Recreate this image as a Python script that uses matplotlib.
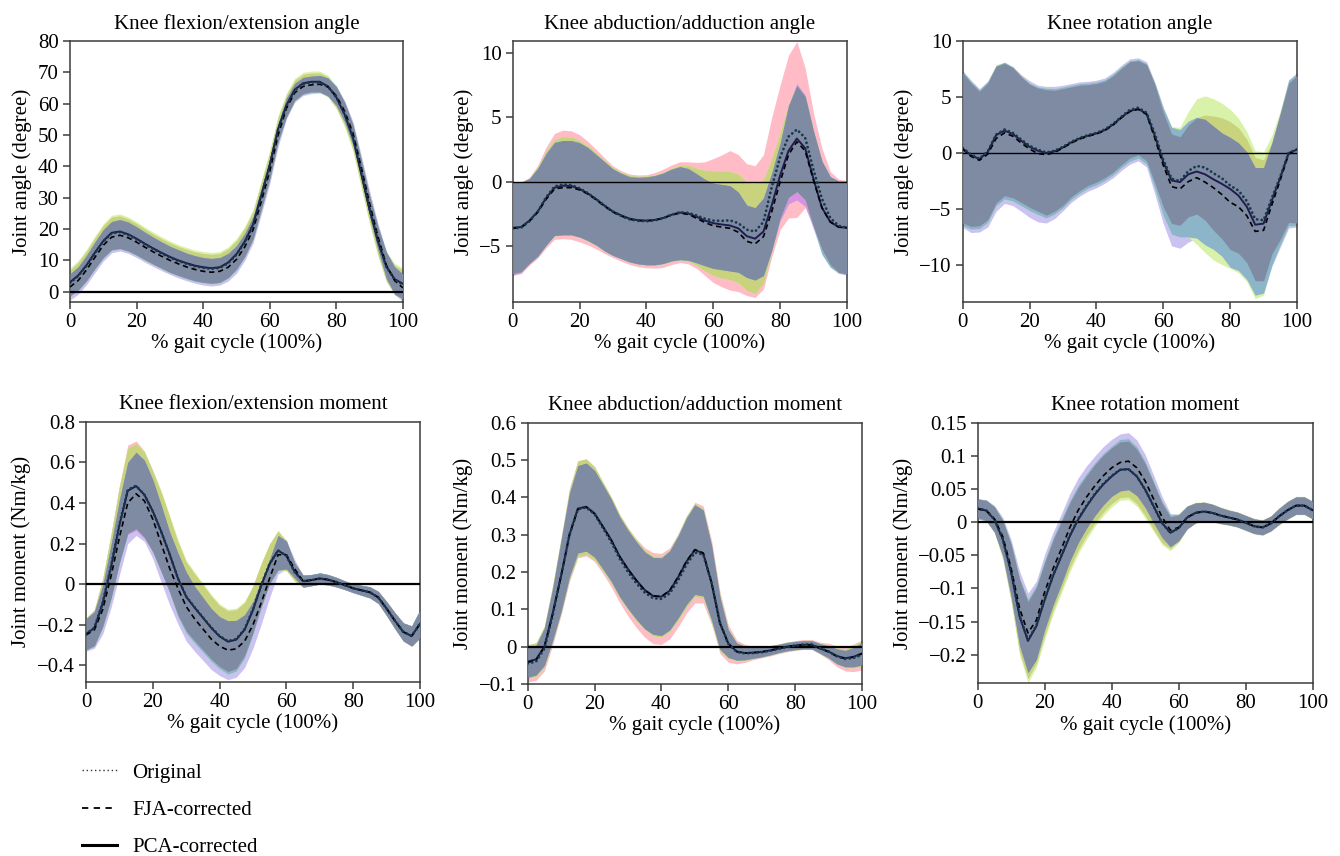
import numpy as np
import matplotlib
matplotlib.use("Agg")
import matplotlib.pyplot as plt
from matplotlib.lines import Line2D

plt.rcParams['font.family'] = ['Liberation Serif', 'DejaVu Serif']
plt.rcParams['axes.unicode_minus'] = True

# ---------------- data (gait cycle sampled every 2.5 %) ----------------
gait_pct = np.linspace(0, 100, 41)

# Knee flexion/extension angle (deg)
fe_ang_orig = [2.8, 5.0, 8.3, 12.3, 16.0, 18.6, 19.0, 18.1, 16.7, 15.1, 13.6, 12.2, 10.9, 9.8, 8.9, 8.1, 7.6, 7.3, 7.6, 9.1, 11.8, 15.8, 21.3, 30.8, 40.3, 51.8, 59.3, 64.3, 66.3, 66.8, 66.8, 65.4, 62.0, 56.7, 49.3, 37.8, 26.3, 16.2, 8.0, 3.8, 2.3]
fe_ang_fja = [1.5, 3.6, 7.0, 11.0, 14.8, 17.4, 18.0, 17.2, 15.8, 14.2, 12.7, 11.3, 10.0, 8.9, 7.9, 7.1, 6.5, 6.2, 6.5, 7.8, 10.3, 14.3, 19.8, 29.0, 38.5, 50.0, 58.5, 63.5, 65.5, 66.0, 66.2, 65.3, 62.5, 57.5, 50.5, 39.5, 28.0, 17.5, 8.5, 3.5, 1.2]
fe_ang_pca = [3.0, 5.2, 8.5, 12.5, 16.2, 18.8, 19.2, 18.3, 16.9, 15.3, 13.8, 12.4, 11.1, 10.0, 9.1, 8.3, 7.8, 7.5, 7.8, 9.3, 12.0, 16.0, 21.5, 31.0, 40.5, 52.0, 59.5, 64.5, 66.5, 67.0, 67.0, 65.5, 62.0, 56.5, 49.0, 37.5, 26.0, 16.0, 8.0, 4.0, 2.5]
fe_ang_sd_orig = [4.1, 4.4, 4.7, 4.9, 5.1, 5.2, 5.2, 5.1, 5.0, 4.9, 4.8, 4.7, 4.7, 4.6, 4.6, 4.6, 4.6, 4.6, 4.6, 4.6, 4.6, 4.5, 4.4, 4.3, 4.2, 3.9, 3.5, 3.2, 3.1, 3.0, 3.0, 3.1, 3.3, 3.6, 3.9, 4.1, 4.2, 4.4, 4.5, 4.6, 4.6]
fe_ang_sd_fja = [4.2, 4.4, 4.7, 4.9, 5.0, 5.0, 5.0, 5.0, 4.9, 4.8, 4.7, 4.6, 4.5, 4.5, 4.4, 4.4, 4.4, 4.4, 4.4, 4.4, 4.4, 4.3, 4.2, 4.1, 4.0, 3.7, 3.3, 3.0, 2.9, 2.8, 2.8, 2.9, 3.1, 3.4, 3.7, 3.9, 4.0, 4.2, 4.3, 4.4, 4.4]
fe_ang_sd_pca = [4.5, 4.8, 5.1, 5.3, 5.5, 5.6, 5.6, 5.5, 5.4, 5.3, 5.2, 5.1, 5.1, 5.0, 5.0, 5.0, 5.0, 5.0, 5.0, 5.0, 5.0, 4.9, 4.8, 4.7, 4.6, 4.3, 3.9, 3.6, 3.5, 3.4, 3.4, 3.5, 3.7, 4.0, 4.3, 4.5, 4.6, 4.8, 4.9, 5.0, 5.0]

# Knee abduction/adduction angle (deg)
aa_ang_orig = [-3.6, -3.55, -3.05, -2.3, -1.2, -0.35, -0.2, -0.25, -0.5, -0.88, -1.35, -1.85, -2.32, -2.65, -2.9, -3.02, -3.05, -2.98, -2.82, -2.55, -2.35, -2.4, -2.6, -2.85, -3.0, -3.02, -2.98, -3.2, -3.7, -3.85, -3.1, -0.4, 1.9, 3.5, 4.05, 3.4, 0.9, -1.3, -2.8, -3.4, -3.55]
aa_ang_fja = [-3.6, -3.55, -3.05, -2.35, -1.35, -0.55, -0.45, -0.45, -0.62, -0.95, -1.4, -1.9, -2.35, -2.65, -2.9, -3.0, -3.02, -2.97, -2.82, -2.57, -2.42, -2.52, -2.82, -3.15, -3.4, -3.5, -3.6, -3.9, -4.6, -4.8, -4.25, -2.3, 0.0, 2.1, 3.1, 2.4, 0.1, -2.0, -3.1, -3.5, -3.55]
aa_ang_pca = [-3.55, -3.5, -3.0, -2.3, -1.25, -0.45, -0.3, -0.32, -0.55, -0.9, -1.35, -1.85, -2.3, -2.6, -2.85, -2.97, -3.0, -2.95, -2.8, -2.55, -2.38, -2.45, -2.7, -3.0, -3.2, -3.3, -3.38, -3.6, -4.2, -4.4, -3.85, -1.8, 0.5, 2.4, 3.35, 2.6, 0.2, -2.0, -3.1, -3.5, -3.55]
aa_ang_sd_orig = [3.65, 3.55, 3.4, 3.6, 3.9, 4.1, 4.2, 4.2, 4.15, 4.0, 3.85, 3.7, 3.55, 3.5, 3.5, 3.55, 3.6, 3.7, 3.8, 3.85, 3.9, 3.95, 4.1, 4.4, 4.8, 5.1, 5.4, 5.3, 5.1, 5.1, 5.2, 5.4, 5.6, 6.3, 6.8, 5.4, 4.4, 3.9, 3.6, 3.6, 3.65]
aa_ang_sd_fja = [3.6, 3.5, 3.3, 3.4, 3.55, 3.6, 3.65, 3.65, 3.65, 3.6, 3.5, 3.45, 3.35, 3.3, 3.3, 3.35, 3.4, 3.45, 3.5, 3.55, 3.6, 3.55, 3.45, 3.35, 3.3, 3.3, 3.3, 3.1, 2.8, 2.8, 3.0, 3.0, 3.0, 3.8, 4.5, 4.3, 3.8, 3.6, 3.5, 3.6, 3.65]
aa_ang_sd_pca = [3.55, 3.45, 3.3, 3.45, 3.65, 3.75, 3.8, 3.8, 3.75, 3.7, 3.6, 3.5, 3.4, 3.35, 3.35, 3.4, 3.45, 3.5, 3.55, 3.6, 3.65, 3.7, 3.75, 3.9, 4.05, 4.15, 4.2, 4.2, 4.2, 4.25, 4.0, 3.6, 3.3, 3.6, 4.1, 4.0, 3.7, 3.6, 3.5, 3.55, 3.6]

# Knee rotation angle (deg)
rot_ang_orig = [0.45, -0.15, -0.5, 0.15, 1.65, 2.1, 1.8, 1.2, 0.65, 0.3, 0.05, 0.2, 0.55, 1.0, 1.35, 1.6, 1.8, 2.1, 2.6, 3.25, 3.85, 4.05, 3.6, 1.7, -0.6, -2.3, -2.5, -1.6, -1.15, -1.3, -1.8, -2.25, -2.9, -3.35, -4.3, -5.9, -6.0, -4.0, -2.1, 0.0, 0.35]
rot_ang_fja = [0.35, -0.3, -0.65, -0.1, 1.3, 1.8, 1.5, 0.9, 0.35, -0.05, -0.15, 0.05, 0.45, 0.9, 1.25, 1.5, 1.7, 2.0, 2.5, 3.15, 3.7, 3.9, 3.45, 1.3, -1.1, -3.0, -3.2, -2.55, -2.2, -2.6, -3.1, -3.7, -4.4, -4.8, -5.6, -7.0, -6.9, -4.6, -2.4, -0.1, 0.3]
rot_ang_pca = [0.4, -0.2, -0.55, 0.1, 1.6, 2.0, 1.7, 1.1, 0.55, 0.2, 0.0, 0.15, 0.5, 0.95, 1.3, 1.55, 1.75, 2.05, 2.55, 3.2, 3.75, 3.95, 3.5, 1.5, -0.8, -2.45, -2.6, -1.9, -1.65, -1.9, -2.35, -2.75, -3.2, -3.8, -4.8, -6.4, -6.3, -4.2, -2.2, 0.0, 0.3]
rot_ang_sd_orig = [6.7, 6.4, 6.0, 6.1, 6.1, 5.9, 5.8, 5.6, 5.5, 5.5, 5.6, 5.4, 5.2, 4.9, 4.7, 4.5, 4.4, 4.3, 4.3, 4.3, 4.3, 4.2, 4.3, 4.4, 4.2, 4.0, 3.95, 4.1, 4.3, 4.7, 5.1, 5.4, 5.7, 5.6, 5.5, 5.5, 5.4, 5.0, 5.6, 6.2, 6.6]
rot_ang_sd_fja = [7.0, 6.8, 6.4, 6.5, 6.5, 6.3, 6.2, 6.1, 6.1, 6.1, 6.1, 5.9, 5.6, 5.3, 5.1, 4.9, 4.8, 4.7, 4.7, 4.7, 4.7, 4.6, 4.7, 5.0, 5.2, 5.3, 5.3, 5.4, 5.4, 5.6, 5.5, 5.5, 5.8, 5.7, 5.7, 5.7, 5.6, 5.5, 6.0, 6.6, 6.9]
rot_ang_sd_pca = [6.9, 6.6, 6.2, 6.3, 6.3, 6.1, 6.0, 5.8, 5.7, 5.7, 5.8, 5.6, 5.4, 5.1, 4.9, 4.7, 4.6, 4.5, 4.5, 4.5, 4.5, 4.4, 4.5, 4.7, 4.8, 4.8, 4.9, 5.6, 6.5, 7.0, 7.2, 7.2, 7.1, 6.9, 6.7, 6.6, 6.4, 5.8, 6.0, 6.5, 6.8]

# Knee flexion/extension moment (Nm/kg)
fe_mom_orig = [-0.245, -0.214, -0.09, 0.09, 0.295, 0.465, 0.485, 0.44, 0.358, 0.258, 0.148, 0.03, -0.06, -0.113, -0.163, -0.213, -0.255, -0.28, -0.27, -0.22, -0.123, -0.002, 0.102, 0.166, 0.14, 0.06, 0.015, 0.02, 0.028, 0.022, 0.01, -0.005, -0.02, -0.03, -0.04, -0.065, -0.12, -0.18, -0.235, -0.255, -0.195]
fe_mom_fja = [-0.25, -0.225, -0.125, 0.04, 0.23, 0.4, 0.445, 0.41, 0.32, 0.2, 0.08, -0.02, -0.11, -0.17, -0.22, -0.27, -0.305, -0.325, -0.318, -0.28, -0.2, -0.09, 0.03, 0.145, 0.145, 0.075, 0.015, 0.02, 0.028, 0.022, 0.01, -0.005, -0.02, -0.03, -0.04, -0.065, -0.12, -0.18, -0.235, -0.255, -0.195]
fe_mom_pca = [-0.245, -0.216, -0.094, 0.085, 0.29, 0.46, 0.483, 0.44, 0.36, 0.26, 0.15, 0.03, -0.062, -0.115, -0.165, -0.215, -0.257, -0.283, -0.273, -0.224, -0.127, -0.005, 0.1, 0.166, 0.14, 0.06, 0.015, 0.02, 0.028, 0.022, 0.01, -0.005, -0.02, -0.03, -0.04, -0.065, -0.12, -0.18, -0.235, -0.255, -0.195]
fe_mom_sd_orig = [0.078, 0.088, 0.118, 0.158, 0.19, 0.22, 0.22, 0.215, 0.2, 0.195, 0.185, 0.18, 0.17, 0.165, 0.16, 0.155, 0.15, 0.15, 0.145, 0.13, 0.115, 0.105, 0.097, 0.095, 0.072, 0.044, 0.029, 0.027, 0.027, 0.025, 0.023, 0.021, 0.021, 0.024, 0.027, 0.029, 0.034, 0.039, 0.044, 0.049, 0.068]
fe_mom_sd_fja = [0.08, 0.09, 0.12, 0.155, 0.185, 0.2, 0.205, 0.2, 0.195, 0.19, 0.18, 0.175, 0.17, 0.16, 0.155, 0.15, 0.145, 0.145, 0.14, 0.13, 0.115, 0.105, 0.095, 0.095, 0.07, 0.045, 0.03, 0.028, 0.028, 0.026, 0.024, 0.022, 0.022, 0.025, 0.028, 0.03, 0.035, 0.04, 0.045, 0.05, 0.07]
fe_mom_sd_pca = [0.08, 0.09, 0.12, 0.16, 0.19, 0.21, 0.21, 0.21, 0.2, 0.2, 0.19, 0.19, 0.18, 0.175, 0.17, 0.165, 0.16, 0.16, 0.155, 0.14, 0.12, 0.11, 0.1, 0.1, 0.075, 0.045, 0.03, 0.028, 0.028, 0.026, 0.024, 0.022, 0.022, 0.025, 0.028, 0.03, 0.035, 0.04, 0.045, 0.05, 0.07]

# Knee abduction/adduction moment (Nm/kg)
aa_mom_orig = [-0.045, -0.04, -0.005, 0.085, 0.19, 0.3, 0.368, 0.373, 0.355, 0.318, 0.28, 0.236, 0.2, 0.17, 0.145, 0.13, 0.128, 0.143, 0.178, 0.22, 0.252, 0.247, 0.172, 0.065, 0.008, -0.014, -0.018, -0.017, -0.015, -0.011, -0.006, -0.001, 0.003, 0.006, 0.006, -0.004, -0.013, -0.026, -0.033, -0.03, -0.022]
aa_mom_fja = [-0.042, -0.036, 0.0, 0.088, 0.19, 0.3, 0.368, 0.374, 0.356, 0.321, 0.285, 0.241, 0.207, 0.177, 0.151, 0.136, 0.134, 0.151, 0.187, 0.229, 0.26, 0.251, 0.171, 0.063, 0.008, -0.013, -0.017, -0.016, -0.014, -0.01, -0.005, 0.0, 0.003, 0.005, 0.005, -0.005, -0.014, -0.026, -0.032, -0.028, -0.019]
aa_mom_pca = [-0.04, -0.034, 0.0, 0.09, 0.19, 0.3, 0.37, 0.375, 0.357, 0.322, 0.286, 0.242, 0.208, 0.178, 0.152, 0.136, 0.134, 0.15, 0.186, 0.228, 0.259, 0.25, 0.17, 0.063, 0.009, -0.013, -0.017, -0.016, -0.014, -0.01, -0.005, 0.0, 0.003, 0.005, 0.005, -0.005, -0.013, -0.025, -0.031, -0.027, -0.018]
aa_mom_sd_orig = [0.05, 0.05, 0.06, 0.08, 0.105, 0.125, 0.13, 0.13, 0.127, 0.122, 0.12, 0.118, 0.118, 0.119, 0.12, 0.122, 0.122, 0.122, 0.125, 0.13, 0.135, 0.13, 0.113, 0.083, 0.05, 0.032, 0.024, 0.018, 0.015, 0.014, 0.013, 0.013, 0.013, 0.013, 0.013, 0.016, 0.022, 0.028, 0.032, 0.037, 0.04]
aa_mom_sd_fja = [0.04, 0.04, 0.05, 0.07, 0.095, 0.112, 0.117, 0.118, 0.116, 0.113, 0.11, 0.107, 0.105, 0.104, 0.103, 0.103, 0.104, 0.106, 0.11, 0.116, 0.12, 0.115, 0.1, 0.07, 0.037, 0.023, 0.018, 0.015, 0.013, 0.012, 0.011, 0.011, 0.011, 0.011, 0.011, 0.013, 0.016, 0.02, 0.022, 0.026, 0.03]
aa_mom_sd_pca = [0.045, 0.045, 0.055, 0.075, 0.1, 0.12, 0.128, 0.128, 0.125, 0.12, 0.115, 0.112, 0.11, 0.108, 0.107, 0.107, 0.108, 0.11, 0.115, 0.122, 0.125, 0.12, 0.105, 0.075, 0.04, 0.025, 0.02, 0.016, 0.014, 0.013, 0.012, 0.012, 0.012, 0.012, 0.012, 0.014, 0.018, 0.022, 0.025, 0.03, 0.034]

# Knee rotation moment (Nm/kg)
rot_mom_orig = [0.021, 0.0178, 0.004, -0.026, -0.076, -0.141, -0.178, -0.156, -0.116, -0.08, -0.05, -0.02, 0.005, 0.025, 0.043, 0.058, 0.07, 0.079, 0.08, 0.069, 0.049, 0.024, -0.001, -0.016, -0.009, 0.007, 0.014, 0.016, 0.014, 0.01, 0.007, 0.004, -0.001, -0.006, -0.008, -0.002, 0.009, 0.018, 0.025, 0.025, 0.018]
rot_mom_fja = [0.02, 0.018, 0.005, -0.022, -0.07, -0.13, -0.167, -0.148, -0.105, -0.07, -0.04, -0.008, 0.018, 0.038, 0.055, 0.07, 0.082, 0.09, 0.092, 0.082, 0.062, 0.035, 0.008, -0.012, -0.008, 0.007, 0.014, 0.016, 0.014, 0.01, 0.007, 0.004, -0.001, -0.006, -0.008, -0.002, 0.009, 0.018, 0.025, 0.025, 0.018]
rot_mom_pca = [0.02, 0.0176, 0.004, -0.026, -0.076, -0.142, -0.179, -0.157, -0.117, -0.081, -0.051, -0.021, 0.004, 0.024, 0.042, 0.057, 0.069, 0.079, 0.08, 0.069, 0.049, 0.024, -0.001, -0.016, -0.009, 0.007, 0.014, 0.016, 0.014, 0.01, 0.007, 0.004, -0.001, -0.006, -0.008, -0.002, 0.009, 0.018, 0.025, 0.025, 0.018]
rot_mom_sd_orig = [0.014, 0.015, 0.019, 0.028, 0.042, 0.055, 0.058, 0.057, 0.055, 0.053, 0.051, 0.049, 0.047, 0.045, 0.044, 0.043, 0.042, 0.042, 0.042, 0.041, 0.039, 0.035, 0.03, 0.024, 0.02, 0.017, 0.015, 0.014, 0.013, 0.012, 0.011, 0.011, 0.011, 0.011, 0.011, 0.011, 0.012, 0.013, 0.013, 0.013, 0.013]
rot_mom_sd_fja = [0.015, 0.016, 0.02, 0.029, 0.043, 0.056, 0.06, 0.059, 0.057, 0.055, 0.053, 0.051, 0.049, 0.047, 0.045, 0.044, 0.043, 0.043, 0.043, 0.042, 0.04, 0.036, 0.031, 0.025, 0.02, 0.017, 0.015, 0.014, 0.013, 0.012, 0.011, 0.011, 0.011, 0.011, 0.011, 0.011, 0.012, 0.013, 0.013, 0.013, 0.013]
rot_mom_sd_pca = [0.015, 0.016, 0.02, 0.03, 0.045, 0.058, 0.063, 0.062, 0.06, 0.058, 0.056, 0.054, 0.052, 0.05, 0.048, 0.047, 0.046, 0.046, 0.046, 0.045, 0.043, 0.038, 0.033, 0.027, 0.022, 0.018, 0.016, 0.015, 0.014, 0.013, 0.012, 0.012, 0.012, 0.012, 0.012, 0.012, 0.013, 0.014, 0.014, 0.014, 0.014]

titles = ["Knee flexion/extension angle", "Knee abduction/adduction angle", "Knee rotation angle",
          "Knee flexion/extension moment", "Knee abduction/adduction moment", "Knee rotation moment"]
ylabels = ["Joint angle (degree)"] * 3 + ["Joint moment (Nm/kg)"] * 3
xlabel = "% gait cycle (100%)"
x_ticks = [0, 20, 40, 60, 80, 100]
y_ticks = [[0, 10, 20, 30, 40, 50, 60, 70, 80], [-5, 0, 5, 10], [-10, -5, 0, 5, 10],
           [-0.4, -0.2, 0, 0.2, 0.4, 0.6, 0.8], [-0.1, 0, 0.1, 0.2, 0.3, 0.4, 0.5, 0.6],
           [-0.2, -0.15, -0.1, -0.05, 0, 0.05, 0.1, 0.15]]
y_limits = [(-3.3, 80), (-9.3, 10.9), (-13.3, 10), (-0.48, 0.8), (-0.1, 0.6), (-0.243, 0.15)]
legend_labels = ["Original", "FJA-corrected", "PCA-corrected"]

panels = [
    (fe_ang_orig, fe_ang_fja, fe_ang_pca, fe_ang_sd_orig, fe_ang_sd_fja, fe_ang_sd_pca),
    (aa_ang_orig, aa_ang_fja, aa_ang_pca, aa_ang_sd_orig, aa_ang_sd_fja, aa_ang_sd_pca),
    (rot_ang_orig, rot_ang_fja, rot_ang_pca, rot_ang_sd_orig, rot_ang_sd_fja, rot_ang_sd_pca),
    (fe_mom_orig, fe_mom_fja, fe_mom_pca, fe_mom_sd_orig, fe_mom_sd_fja, fe_mom_sd_pca),
    (aa_mom_orig, aa_mom_fja, aa_mom_pca, aa_mom_sd_orig, aa_mom_sd_fja, aa_mom_sd_pca),
    (rot_mom_orig, rot_mom_fja, rot_mom_pca, rot_mom_sd_orig, rot_mom_sd_fja, rot_mom_sd_pca),
]

# ---------------- style ----------------
C_SINGLE = ['#ffbcc6', '#cbc2f2', '#d9f2a9']          # orig(pink), fja(lavender), pca(green)
C_PAIR = {(0, 1): '#d793e2', (0, 2): '#c9d37e', (1, 2): '#8cb5c9'}
C_ALL = '#7f8ba3'
SPINE = '#3c3c3c'
FS = 15

axes_rects = [
    (70 / 1340, 1 - 302 / 856, 333 / 1340, 261 / 856),
    (512.7 / 1340, 1 - 302 / 856, 334.3 / 1340, 261 / 856),
    (962.7 / 1340, 1 - 302 / 856, 334.3 / 1340, 261 / 856),
    (86 / 1340, 1 - 681.7 / 856, 334 / 1340, 260 / 856),
    (527.7 / 1340, 1 - 684 / 856, 334.3 / 1340, 261.3 / 856),
    (977.7 / 1340, 1 - 683.3 / 856, 335 / 1340, 260.6 / 856),
]
zero_lw = [1.6, 1.0, 1.0, 1.6, 1.6, 1.6]


def fmt(v):
    s = ('%g' % v)
    return s.replace('-', '\u2212')


def draw_bands(ax, x, means, sds):
    lo = [np.asarray(m) - np.asarray(s) for m, s in zip(means, sds)]
    hi = [np.asarray(m) + np.asarray(s) for m, s in zip(means, sds)]
    for k in range(3):
        ax.fill_between(x, lo[k], hi[k], color=C_SINGLE[k], lw=0, zorder=1)
    for (i, j), c in C_PAIR.items():
        l = np.maximum(lo[i], lo[j])
        h = np.minimum(hi[i], hi[j])
        ax.fill_between(x, l, h, where=h >= l, interpolate=True, color=c, lw=0, zorder=2)
    l = np.maximum(np.maximum(lo[0], lo[1]), lo[2])
    h = np.minimum(np.minimum(hi[0], hi[1]), hi[2])
    ax.fill_between(x, l, h, where=h >= l, interpolate=True, color=C_ALL, lw=0, zorder=3)


fig = plt.figure(figsize=(13.4, 8.56), dpi=100)

for idx, (o, f, p, so, sf, sp) in enumerate(panels):
    ax = fig.add_axes(axes_rects[idx])
    draw_bands(ax, gait_pct, [o, f, p], [so, sf, sp])
    ax.axhline(0, color='black', lw=zero_lw[idx], zorder=4)
    ax.plot(gait_pct, p, color='#1f1d4d', lw=1.4, zorder=5, solid_joinstyle='round')
    ax.plot(gait_pct, f, color='black', lw=1.2, ls=(0, (3.2, 2.2)), zorder=6)
    ax.plot(gait_pct, o, color='#17394a', lw=2.0, ls=(0, (0.05, 1.6)),
            dash_capstyle='round', zorder=7)
    ax.set_xlim(0, 100)
    ax.set_ylim(*y_limits[idx])
    ax.set_xticks(x_ticks)
    ax.set_xticklabels([fmt(v) for v in x_ticks])
    ax.set_yticks(y_ticks[idx])
    ax.set_yticklabels([fmt(v) for v in y_ticks[idx]])
    ax.tick_params(direction='out', length=5, width=1.1, color=SPINE, labelsize=FS, pad=3)
    for sp_ in ax.spines.values():
        sp_.set_color(SPINE)
        sp_.set_linewidth(1.1)
    ax.set_title(titles[idx], fontsize=FS, pad=9)
    ax.set_xlabel(xlabel, fontsize=FS, labelpad=1)
    ax.set_ylabel(ylabels[idx], fontsize=FS, labelpad=4)

handles = [
    Line2D([], [], color='#333333', lw=1.0, ls=(0, (1, 2))),
    Line2D([], [], color='black', lw=1.3, ls=(0, (3.5, 3))),
    Line2D([], [], color='black', lw=2.2),
]
fig.legend(handles, legend_labels, loc='upper left', bbox_to_anchor=(82 / 1340, 1 - 763 / 856),
           frameon=False, fontsize=FS, handlelength=1.7, handletextpad=0.7,
           labelspacing=0.85, borderpad=0, borderaxespad=0)

fig.savefig('out.png', dpi=100)
